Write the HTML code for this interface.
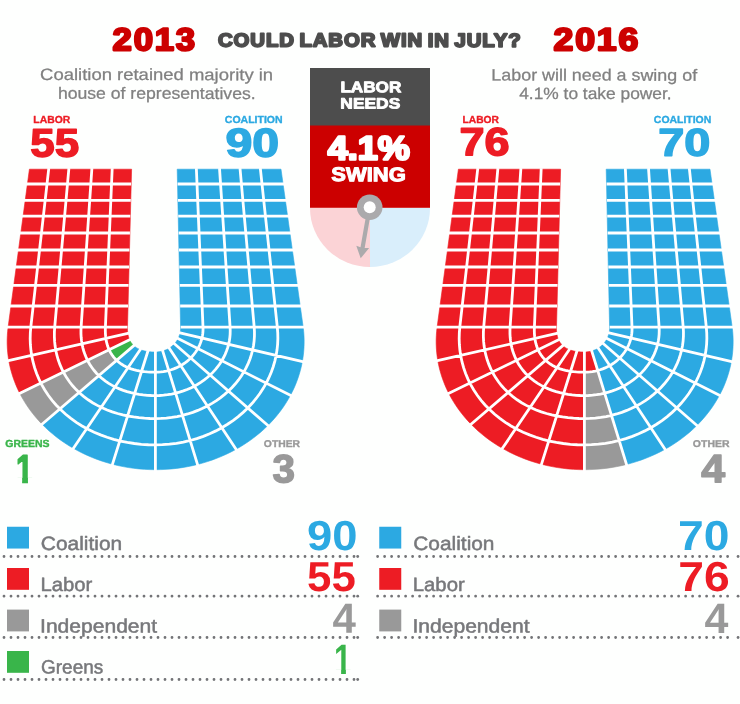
<!DOCTYPE html>
<html><head><meta charset="utf-8"><title>Could Labor win in July?</title>
<style>html,body{margin:0;padding:0;background:#fefffe}svg{display:block}</style></head>
<body>
<svg width="740" height="704" viewBox="0 0 740 704" font-family="'Liberation Sans', sans-serif">
<rect width="740" height="704" fill="#fefffe"/>
<g transform="translate(0,0)">
<path fill="#ed1c24" stroke="#ed1c24" stroke-width="0.6" d="M29.40,169.20 L48.80,169.20 L47.11,184.00 L27.40,184.00ZM48.80,169.20 L68.90,169.20 L67.57,184.00 L47.11,184.00ZM68.90,169.20 L91.90,169.20 L90.89,184.00 L67.57,184.00ZM91.90,169.20 L112.20,169.20 L111.56,184.00 L90.89,184.00ZM112.20,169.20 L131.60,169.20 L131.22,184.00 L111.56,184.00ZM27.40,184.00 L47.11,184.00 L45.26,200.30 L25.21,200.30ZM47.11,184.00 L67.57,184.00 L66.10,200.30 L45.26,200.30ZM67.57,184.00 L90.89,184.00 L89.77,200.30 L66.10,200.30ZM90.89,184.00 L111.56,184.00 L110.86,200.30 L89.77,200.30ZM111.56,184.00 L131.22,184.00 L130.79,200.30 L110.86,200.30ZM25.21,200.30 L45.26,200.30 L43.46,216.10 L23.08,216.10ZM45.26,200.30 L66.10,200.30 L64.68,216.10 L43.46,216.10ZM66.10,200.30 L89.77,200.30 L88.69,216.10 L64.68,216.10ZM89.77,200.30 L110.86,200.30 L110.18,216.10 L88.69,216.10ZM110.86,200.30 L130.79,200.30 L130.38,216.10 L110.18,216.10ZM23.08,216.10 L43.46,216.10 L41.53,233.00 L20.80,233.00ZM43.46,216.10 L64.68,216.10 L63.17,233.00 L41.53,233.00ZM64.68,216.10 L88.69,216.10 L87.54,233.00 L63.17,233.00ZM88.69,216.10 L110.18,216.10 L109.45,233.00 L87.54,233.00ZM110.18,216.10 L130.38,216.10 L129.94,233.00 L109.45,233.00ZM20.80,233.00 L41.53,233.00 L39.59,250.00 L18.51,250.00ZM41.53,233.00 L63.17,233.00 L61.64,250.00 L39.59,250.00ZM63.17,233.00 L87.54,233.00 L86.38,250.00 L61.64,250.00ZM87.54,233.00 L109.45,233.00 L108.72,250.00 L86.38,250.00ZM109.45,233.00 L129.94,233.00 L129.50,250.00 L108.72,250.00ZM18.51,250.00 L39.59,250.00 L37.66,267.00 L16.22,267.00ZM39.59,250.00 L61.64,250.00 L60.11,267.00 L37.66,267.00ZM61.64,250.00 L86.38,250.00 L85.21,267.00 L60.11,267.00ZM86.38,250.00 L108.72,250.00 L107.99,267.00 L85.21,267.00ZM108.72,250.00 L129.50,250.00 L129.06,267.00 L107.99,267.00ZM16.22,267.00 L37.66,267.00 L35.57,285.30 L13.75,285.30ZM37.66,267.00 L60.11,267.00 L58.47,285.30 L35.57,285.30ZM60.11,267.00 L85.21,267.00 L83.96,285.30 L58.47,285.30ZM85.21,267.00 L107.99,267.00 L107.20,285.30 L83.96,285.30ZM107.99,267.00 L129.06,267.00 L128.59,285.30 L107.20,285.30ZM13.75,285.30 L35.57,285.30 L33.22,306.00 L10.96,306.00ZM35.57,285.30 L58.47,285.30 L56.61,306.00 L33.22,306.00ZM58.47,285.30 L83.96,285.30 L82.55,306.00 L56.61,306.00ZM83.96,285.30 L107.20,285.30 L106.31,306.00 L82.55,306.00ZM107.20,285.30 L128.59,285.30 L128.05,306.00 L106.31,306.00ZM10.96,306.00 L33.22,306.00 L30.80,327.20 L8.10,327.20ZM33.22,306.00 L56.61,306.00 L54.70,327.20 L30.80,327.20ZM56.61,306.00 L82.55,306.00 L81.10,327.20 L54.70,327.20ZM82.55,306.00 L106.31,306.00 L105.40,327.20 L81.10,327.20ZM106.31,306.00 L128.05,306.00 L127.50,327.20 L105.40,327.20ZM127.50,327.20 L127.49,327.98 L127.49,328.76 L127.50,329.54 L127.53,330.32 L127.58,331.11 L127.64,331.89 L127.72,332.68 L127.83,333.48 L105.88,338.47 L105.70,337.05 L105.56,335.63 L105.45,334.21 L105.38,332.80 L105.34,331.39 L105.33,329.99 L105.35,328.59 L105.40,327.20ZM105.40,327.20 L105.35,328.59 L105.33,329.99 L105.34,331.39 L105.38,332.80 L105.45,334.21 L105.56,335.63 L105.70,337.05 L105.88,338.47 L82.03,343.90 L81.68,341.81 L81.40,339.71 L81.19,337.62 L81.05,335.52 L80.97,333.43 L80.95,331.35 L80.99,329.27 L81.10,327.20ZM81.10,327.20 L80.99,329.27 L80.95,331.35 L80.97,333.43 L81.05,335.52 L81.19,337.62 L81.40,339.71 L81.68,341.81 L82.03,343.90 L55.72,349.89 L55.24,347.04 L54.87,344.20 L54.61,341.35 L54.43,338.50 L54.36,335.66 L54.38,332.83 L54.49,330.01 L54.70,327.20ZM54.70,327.20 L54.49,330.01 L54.38,332.83 L54.36,335.66 L54.43,338.50 L54.61,341.35 L54.87,344.20 L55.24,347.04 L55.72,349.89 L31.65,355.37 L31.10,351.83 L30.68,348.29 L30.39,344.75 L30.22,341.21 L30.18,337.69 L30.27,334.18 L30.47,330.68 L30.80,327.20ZM30.80,327.20 L30.47,330.68 L30.27,334.18 L30.18,337.69 L30.22,341.21 L30.39,344.75 L30.68,348.29 L31.10,351.83 L31.65,355.37 L8.78,360.58 L8.14,356.38 L7.65,352.18 L7.33,347.98 L7.17,343.79 L7.17,339.62 L7.33,335.45 L7.64,331.31 L8.10,327.20ZM127.83,333.48 L127.95,334.27 L128.10,335.07 L128.27,335.86 L128.48,336.66 L128.71,337.45 L128.97,338.24 L129.27,339.02 L129.61,339.80 L109.10,349.81 L108.50,348.42 L107.96,347.02 L107.48,345.61 L107.06,344.18 L106.69,342.76 L106.37,341.33 L106.10,339.90 L105.88,338.47ZM105.88,338.47 L106.10,339.90 L106.37,341.33 L106.69,342.76 L107.06,344.18 L107.48,345.61 L107.96,347.02 L108.50,348.42 L109.10,349.81 L87.52,360.35 L86.55,358.35 L85.67,356.33 L84.87,354.29 L84.15,352.23 L83.50,350.16 L82.94,348.08 L82.44,345.99 L82.03,343.90ZM82.03,343.90 L82.44,345.99 L82.94,348.08 L83.50,350.16 L84.15,352.23 L84.87,354.29 L85.67,356.33 L86.55,358.35 L87.52,360.35 L63.39,372.14 L62.04,369.45 L60.80,366.72 L59.67,363.96 L58.66,361.18 L57.76,358.38 L56.97,355.56 L56.29,352.73 L55.72,349.89ZM55.72,349.89 L56.29,352.73 L56.97,355.56 L57.76,358.38 L58.66,361.18 L59.67,363.96 L60.80,366.72 L62.04,369.45 L63.39,372.14 L40.92,383.11 L39.28,379.74 L37.77,376.34 L36.41,372.90 L35.19,369.43 L34.10,365.94 L33.15,362.43 L32.33,358.90 L31.65,355.37ZM31.65,355.37 L32.33,358.90 L33.15,362.43 L34.10,365.94 L35.19,369.43 L36.41,372.90 L37.77,376.34 L39.28,379.74 L40.92,383.11 L19.80,393.43 L17.85,389.44 L16.07,385.41 L14.44,381.34 L12.98,377.23 L11.69,373.10 L10.55,368.94 L9.59,364.76 L8.78,360.58Z"/>
<path fill="#2ca9e2" stroke="#2ca9e2" stroke-width="0.6" d="M177.20,169.20 L196.35,169.20 L196.97,184.00 L177.52,184.00ZM196.35,169.20 L219.50,169.20 L220.49,184.00 L196.97,184.00ZM219.50,169.20 L240.00,169.20 L241.33,184.00 L220.49,184.00ZM240.00,169.20 L260.30,169.20 L261.89,184.00 L241.33,184.00ZM260.30,169.20 L281.00,169.20 L283.08,184.00 L261.89,184.00ZM177.52,184.00 L196.97,184.00 L197.66,200.30 L177.87,200.30ZM196.97,184.00 L220.49,184.00 L221.59,200.30 L197.66,200.30ZM220.49,184.00 L241.33,184.00 L242.80,200.30 L221.59,200.30ZM241.33,184.00 L261.89,184.00 L263.65,200.30 L242.80,200.30ZM261.89,184.00 L283.08,184.00 L285.37,200.30 L263.65,200.30ZM177.87,200.30 L197.66,200.30 L198.32,216.10 L178.21,216.10ZM197.66,200.30 L221.59,200.30 L222.65,216.10 L198.32,216.10ZM221.59,200.30 L242.80,200.30 L244.22,216.10 L222.65,216.10ZM242.80,200.30 L263.65,200.30 L265.35,216.10 L244.22,216.10ZM263.65,200.30 L285.37,200.30 L287.59,216.10 L265.35,216.10ZM178.21,216.10 L198.32,216.10 L199.04,233.00 L178.57,233.00ZM198.32,216.10 L222.65,216.10 L223.78,233.00 L199.04,233.00ZM222.65,216.10 L244.22,216.10 L245.73,233.00 L223.78,233.00ZM244.22,216.10 L265.35,216.10 L267.16,233.00 L245.73,233.00ZM265.35,216.10 L287.59,216.10 L289.96,233.00 L267.16,233.00ZM178.57,233.00 L199.04,233.00 L199.75,250.00 L178.94,250.00ZM199.04,233.00 L223.78,233.00 L224.92,250.00 L199.75,250.00ZM223.78,233.00 L245.73,233.00 L247.26,250.00 L224.92,250.00ZM245.73,233.00 L267.16,233.00 L268.99,250.00 L247.26,250.00ZM267.16,233.00 L289.96,233.00 L292.35,250.00 L268.99,250.00ZM178.94,250.00 L199.75,250.00 L200.47,267.00 L179.30,267.00ZM199.75,250.00 L224.92,250.00 L226.06,267.00 L200.47,267.00ZM224.92,250.00 L247.26,250.00 L248.79,267.00 L226.06,267.00ZM247.26,250.00 L268.99,250.00 L270.82,267.00 L248.79,267.00ZM268.99,250.00 L292.35,250.00 L294.74,267.00 L270.82,267.00ZM179.30,267.00 L200.47,267.00 L201.24,285.30 L179.70,285.30ZM200.47,267.00 L226.06,267.00 L227.29,285.30 L201.24,285.30ZM226.06,267.00 L248.79,267.00 L250.43,285.30 L227.29,285.30ZM248.79,267.00 L270.82,267.00 L272.79,285.30 L250.43,285.30ZM270.82,267.00 L294.74,267.00 L297.31,285.30 L272.79,285.30ZM179.70,285.30 L201.24,285.30 L202.11,306.00 L180.14,306.00ZM201.24,285.30 L227.29,285.30 L228.68,306.00 L202.11,306.00ZM227.29,285.30 L250.43,285.30 L252.29,306.00 L228.68,306.00ZM250.43,285.30 L272.79,285.30 L275.02,306.00 L252.29,306.00ZM272.79,285.30 L297.31,285.30 L300.22,306.00 L275.02,306.00ZM180.14,306.00 L202.11,306.00 L203.00,327.20 L180.60,327.20ZM202.11,306.00 L228.68,306.00 L230.10,327.20 L203.00,327.20ZM228.68,306.00 L252.29,306.00 L254.20,327.20 L230.10,327.20ZM252.29,306.00 L275.02,306.00 L277.30,327.20 L254.20,327.20ZM275.02,306.00 L300.22,306.00 L303.20,327.20 L277.30,327.20ZM133.83,345.66 L134.53,346.27 L135.26,346.85 L136.02,347.40 L136.81,347.91 L137.63,348.39 L138.48,348.84 L139.34,349.25 L140.22,349.63 L128.04,367.62 L126.47,366.92 L124.93,366.16 L123.42,365.34 L121.97,364.46 L120.56,363.52 L119.20,362.52 L117.90,361.47 L116.66,360.36ZM116.66,360.36 L117.90,361.47 L119.20,362.52 L120.56,363.52 L121.97,364.46 L123.42,365.34 L124.93,366.16 L126.47,366.92 L128.04,367.62 L115.01,386.89 L112.77,385.73 L110.59,384.50 L108.46,383.19 L106.40,381.82 L104.39,380.37 L102.46,378.85 L100.61,377.26 L98.83,375.61ZM98.83,375.61 L100.61,377.26 L102.46,378.85 L104.39,380.37 L106.40,381.82 L108.46,383.19 L110.59,384.50 L112.77,385.73 L115.01,386.89 L101.17,407.33 L98.14,405.82 L95.17,404.21 L92.28,402.50 L89.46,400.69 L86.73,398.78 L84.08,396.78 L81.53,394.69 L79.08,392.51ZM79.08,392.51 L81.53,394.69 L84.08,396.78 L86.73,398.78 L89.46,400.69 L92.28,402.50 L95.17,404.21 L98.14,405.82 L101.17,407.33 L86.79,428.59 L83.06,426.52 L79.43,424.34 L75.89,422.04 L72.46,419.63 L69.14,417.11 L65.93,414.49 L62.85,411.76 L59.89,408.94ZM59.89,408.94 L62.85,411.76 L65.93,414.49 L69.14,417.11 L72.46,419.63 L75.89,422.04 L79.43,424.34 L83.06,426.52 L86.79,428.59 L73.41,448.35 L69.05,445.75 L64.81,443.03 L60.69,440.18 L56.69,437.21 L52.83,434.12 L49.09,430.92 L45.50,427.61 L42.05,424.20ZM140.22,349.63 L141.14,349.98 L142.07,350.29 L143.01,350.57 L143.95,350.82 L144.91,351.04 L145.86,351.23 L146.82,351.39 L147.78,351.54 L141.61,371.26 L139.88,370.98 L138.15,370.66 L136.43,370.29 L134.72,369.87 L133.02,369.40 L131.34,368.87 L129.68,368.28 L128.04,367.62ZM128.04,367.62 L129.68,368.28 L131.34,368.87 L133.02,369.40 L134.72,369.87 L136.43,370.29 L138.15,370.66 L139.88,370.98 L141.61,371.26 L134.64,393.52 L132.09,392.96 L129.56,392.32 L127.05,391.61 L124.57,390.82 L122.12,389.95 L119.71,389.01 L117.34,387.99 L115.01,386.89ZM115.01,386.89 L117.34,387.99 L119.71,389.01 L122.12,389.95 L124.57,390.82 L127.05,391.61 L129.56,392.32 L132.09,392.96 L134.64,393.52 L127.62,415.94 L124.20,415.21 L120.80,414.38 L117.43,413.46 L114.10,412.44 L110.79,411.32 L107.54,410.09 L104.33,408.76 L101.17,407.33ZM101.17,407.33 L104.33,408.76 L107.54,410.09 L110.79,411.32 L114.10,412.44 L117.43,413.46 L120.80,414.38 L124.20,415.21 L127.62,415.94 L119.82,440.85 L115.49,439.77 L111.21,438.56 L106.98,437.22 L102.80,435.75 L98.69,434.15 L94.64,432.42 L90.67,430.57 L86.79,428.59ZM86.79,428.59 L90.67,430.57 L94.64,432.42 L98.69,434.15 L102.80,435.75 L106.98,437.22 L111.21,438.56 L115.49,439.77 L119.82,440.85 L112.50,464.23 L107.33,462.79 L102.23,461.19 L97.20,459.43 L92.26,457.51 L87.40,455.44 L82.63,453.22 L77.97,450.86 L73.41,448.35ZM147.78,351.54 L148.74,351.65 L149.70,351.75 L150.65,351.83 L151.60,351.89 L152.56,351.94 L153.50,351.97 L154.45,351.99 L155.40,352.00 L155.40,372.20 L153.68,372.19 L151.96,372.15 L150.24,372.08 L148.52,371.98 L146.79,371.85 L145.06,371.69 L143.34,371.50 L141.61,371.26ZM141.61,371.26 L143.34,371.50 L145.06,371.69 L146.79,371.85 L148.52,371.98 L150.24,372.08 L151.96,372.15 L153.68,372.19 L155.40,372.20 L155.40,395.60 L152.79,395.57 L150.18,395.47 L147.57,395.31 L144.97,395.09 L142.37,394.80 L139.78,394.44 L137.20,394.02 L134.64,393.52ZM134.64,393.52 L137.20,394.02 L139.78,394.44 L142.37,394.80 L144.97,395.09 L147.57,395.31 L150.18,395.47 L152.79,395.57 L155.40,395.60 L155.40,418.60 L151.91,418.56 L148.42,418.44 L144.93,418.23 L141.45,417.95 L137.98,417.58 L134.51,417.12 L131.06,416.57 L127.62,415.94ZM127.62,415.94 L131.06,416.57 L134.51,417.12 L137.98,417.58 L141.45,417.95 L144.93,418.23 L148.42,418.44 L151.91,418.56 L155.40,418.60 L155.40,444.90 L150.90,444.84 L146.41,444.65 L141.93,444.33 L137.46,443.89 L133.01,443.32 L128.59,442.63 L124.19,441.80 L119.82,440.85ZM119.82,440.85 L124.19,441.80 L128.59,442.63 L133.01,443.32 L137.46,443.89 L141.93,444.33 L146.41,444.65 L150.90,444.84 L155.40,444.90 L155.40,469.70 L149.96,469.61 L144.52,469.36 L139.11,468.92 L133.71,468.32 L128.34,467.55 L123.02,466.61 L117.73,465.50 L112.50,464.23ZM155.40,352.00 L156.33,351.98 L157.26,351.94 L158.18,351.86 L159.10,351.74 L160.01,351.60 L160.91,351.43 L161.81,351.22 L162.69,350.99 L168.67,370.49 L167.06,370.89 L165.42,371.23 L163.77,371.53 L162.11,371.77 L160.44,371.96 L158.77,372.09 L157.08,372.17 L155.40,372.20ZM155.40,372.20 L157.08,372.17 L158.77,372.09 L160.44,371.96 L162.11,371.77 L163.77,371.53 L165.42,371.23 L167.06,370.89 L168.67,370.49 L175.63,393.19 L173.16,393.75 L170.66,394.24 L168.14,394.66 L165.61,394.99 L163.07,395.26 L160.52,395.45 L157.96,395.56 L155.40,395.60ZM155.40,395.60 L157.96,395.56 L160.52,395.45 L163.07,395.26 L165.61,394.99 L168.14,394.66 L170.66,394.24 L173.16,393.75 L175.63,393.19 L182.44,415.38 L179.13,416.13 L175.79,416.78 L172.43,417.34 L169.05,417.79 L165.65,418.14 L162.24,418.40 L158.82,418.55 L155.40,418.60ZM155.40,418.60 L158.82,418.55 L162.24,418.40 L165.65,418.14 L169.05,417.79 L172.43,417.34 L175.79,416.78 L179.13,416.13 L182.44,415.38 L190.14,440.48 L185.90,441.51 L181.62,442.41 L177.31,443.17 L172.96,443.79 L168.59,444.27 L164.21,444.62 L159.81,444.83 L155.40,444.90ZM155.40,444.90 L159.81,444.83 L164.21,444.62 L168.59,444.27 L172.96,443.79 L177.31,443.17 L181.62,442.41 L185.90,441.51 L190.14,440.48 L197.49,464.47 L192.35,465.69 L187.16,466.75 L181.93,467.65 L176.67,468.39 L171.38,468.96 L166.06,469.37 L160.74,469.62 L155.40,469.70ZM162.69,350.99 L163.56,350.72 L164.42,350.43 L165.27,350.11 L166.09,349.76 L166.90,349.38 L167.69,348.98 L168.46,348.56 L169.21,348.11 L180.75,365.58 L179.35,366.35 L177.90,367.08 L176.43,367.77 L174.93,368.41 L173.40,369.00 L171.85,369.55 L170.27,370.04 L168.67,370.49ZM168.67,370.49 L170.27,370.04 L171.85,369.55 L173.40,369.00 L174.93,368.41 L176.43,367.77 L177.90,367.08 L179.35,366.35 L180.75,365.58 L194.35,386.15 L192.14,387.27 L189.89,388.32 L187.60,389.31 L185.27,390.22 L182.91,391.07 L180.51,391.85 L178.09,392.56 L175.63,393.19ZM175.63,393.19 L178.09,392.56 L180.51,391.85 L182.91,391.07 L185.27,390.22 L187.60,389.31 L189.89,388.32 L192.14,387.27 L194.35,386.15 L207.43,405.95 L204.49,407.45 L201.48,408.86 L198.42,410.18 L195.31,411.41 L192.16,412.54 L188.96,413.58 L185.71,414.53 L182.44,415.38ZM182.44,415.38 L185.71,414.53 L188.96,413.58 L192.16,412.54 L195.31,411.41 L198.42,410.18 L201.48,408.86 L204.49,407.45 L207.43,405.95 L221.81,427.72 L218.11,429.73 L214.33,431.63 L210.47,433.42 L206.53,435.08 L202.53,436.62 L198.45,438.04 L194.32,439.33 L190.14,440.48ZM190.14,440.48 L194.32,439.33 L198.45,438.04 L202.53,436.62 L206.53,435.08 L210.47,433.42 L214.33,431.63 L218.11,429.73 L221.81,427.72 L236.05,449.27 L231.54,451.68 L226.92,453.94 L222.22,456.07 L217.42,458.05 L212.55,459.89 L207.59,461.57 L202.57,463.10 L197.49,464.47ZM169.21,348.11 L169.94,347.64 L170.65,347.15 L171.34,346.64 L172.00,346.10 L172.64,345.55 L173.25,344.99 L173.84,344.40 L174.40,343.81 L190.68,358.03 L189.58,359.09 L188.44,360.12 L187.26,361.12 L186.03,362.09 L184.77,363.02 L183.47,363.91 L182.13,364.76 L180.75,365.58ZM180.75,365.58 L182.13,364.76 L183.47,363.91 L184.77,363.02 L186.03,362.09 L187.26,361.12 L188.44,360.12 L189.58,359.09 L190.68,358.03 L210.13,375.03 L208.36,376.61 L206.53,378.15 L204.64,379.63 L202.69,381.05 L200.68,382.42 L198.62,383.72 L196.51,384.97 L194.35,386.15ZM194.35,386.15 L196.51,384.97 L198.62,383.72 L200.68,382.42 L202.69,381.05 L204.64,379.63 L206.53,378.15 L208.36,376.61 L210.13,375.03 L228.46,391.04 L226.11,393.17 L223.67,395.23 L221.15,397.21 L218.55,399.12 L215.88,400.95 L213.13,402.70 L210.31,404.37 L207.43,405.95ZM207.43,405.95 L210.31,404.37 L213.13,402.70 L215.88,400.95 L218.55,399.12 L221.15,397.21 L223.67,395.23 L226.11,393.17 L228.46,391.04 L247.80,407.95 L244.94,410.74 L241.95,413.45 L238.86,416.07 L235.65,418.60 L232.34,421.03 L228.93,423.37 L225.42,425.60 L221.81,427.72ZM221.81,427.72 L225.42,425.60 L228.93,423.37 L232.34,421.03 L235.65,418.60 L238.86,416.07 L241.95,413.45 L244.94,410.74 L247.80,407.95 L267.87,425.49 L264.36,428.86 L260.70,432.13 L256.90,435.28 L252.98,438.33 L248.92,441.25 L244.75,444.05 L240.45,446.73 L236.05,449.27ZM174.40,343.81 L174.94,343.19 L175.46,342.57 L175.94,341.93 L176.41,341.29 L176.84,340.63 L177.26,339.96 L177.64,339.29 L178.01,338.61 L197.83,348.61 L197.10,349.86 L196.32,351.09 L195.50,352.31 L194.62,353.50 L193.70,354.67 L192.74,355.82 L191.73,356.94 L190.68,358.03ZM190.68,358.03 L191.73,356.94 L192.74,355.82 L193.70,354.67 L194.62,353.50 L195.50,352.31 L196.32,351.09 L197.10,349.86 L197.83,348.61 L221.82,360.71 L220.61,362.64 L219.33,364.53 L217.98,366.39 L216.55,368.20 L215.05,369.98 L213.48,371.71 L211.84,373.39 L210.13,375.03ZM210.13,375.03 L211.84,373.39 L213.48,371.71 L215.05,369.98 L216.55,368.20 L217.98,366.39 L219.33,364.53 L220.61,362.64 L221.82,360.71 L243.90,371.85 L242.32,374.43 L240.63,376.97 L238.85,379.46 L236.96,381.89 L234.98,384.27 L232.90,386.59 L230.72,388.85 L228.46,391.04ZM228.46,391.04 L230.72,388.85 L232.90,386.59 L234.98,384.27 L236.96,381.89 L238.85,379.46 L240.63,376.97 L242.32,374.43 L243.90,371.85 L266.23,383.12 L264.38,386.42 L262.40,389.68 L260.29,392.88 L258.04,396.03 L255.67,399.11 L253.17,402.13 L250.55,405.08 L247.80,407.95ZM247.80,407.95 L250.55,405.08 L253.17,402.13 L255.67,399.11 L258.04,396.03 L260.29,392.88 L262.40,389.68 L264.38,386.42 L266.23,383.12 L290.46,395.34 L288.20,399.37 L285.78,403.33 L283.19,407.22 L280.44,411.05 L277.53,414.79 L274.46,418.45 L271.24,422.01 L267.87,425.49ZM178.01,338.61 L178.34,337.92 L178.66,337.22 L178.95,336.52 L179.21,335.82 L179.45,335.11 L179.67,334.40 L179.86,333.68 L180.03,332.97 L201.95,338.10 L201.60,339.45 L201.21,340.79 L200.77,342.12 L200.28,343.44 L199.74,344.76 L199.15,346.05 L198.51,347.34 L197.83,348.61ZM197.83,348.61 L198.51,347.34 L199.15,346.05 L199.74,344.76 L200.28,343.44 L200.77,342.12 L201.21,340.79 L201.60,339.45 L201.95,338.10 L228.60,344.34 L228.03,346.45 L227.39,348.56 L226.66,350.64 L225.86,352.70 L224.97,354.74 L224.00,356.76 L222.95,358.75 L221.82,360.71ZM221.82,360.71 L222.95,358.75 L224.00,356.76 L224.97,354.74 L225.86,352.70 L226.66,350.64 L227.39,348.56 L228.03,346.45 L228.60,344.34 L252.63,349.97 L251.93,352.79 L251.12,355.59 L250.19,358.38 L249.15,361.14 L248.00,363.87 L246.74,366.56 L245.37,369.23 L243.90,371.85ZM243.90,371.85 L245.37,369.23 L246.74,366.56 L248.00,363.87 L249.15,361.14 L250.19,358.38 L251.12,355.59 L251.93,352.79 L252.63,349.97 L276.11,355.47 L275.36,359.00 L274.47,362.52 L273.44,366.02 L272.27,369.50 L270.96,372.96 L269.52,376.38 L267.95,379.77 L266.23,383.12ZM266.23,383.12 L267.95,379.77 L269.52,376.38 L270.96,372.96 L272.27,369.50 L273.44,366.02 L274.47,362.52 L275.36,359.00 L276.11,355.47 L302.34,361.61 L301.46,365.92 L300.41,370.22 L299.18,374.49 L297.78,378.74 L296.21,382.95 L294.47,387.13 L292.55,391.26 L290.46,395.34ZM180.03,332.97 L180.18,332.25 L180.31,331.53 L180.41,330.81 L180.49,330.09 L180.55,329.36 L180.59,328.64 L180.61,327.92 L180.60,327.20 L203.00,327.20 L203.03,328.56 L203.02,329.93 L202.96,331.29 L202.85,332.66 L202.70,334.02 L202.50,335.39 L202.25,336.75 L201.95,338.10ZM201.95,338.10 L202.25,336.75 L202.50,335.39 L202.70,334.02 L202.85,332.66 L202.96,331.29 L203.02,329.93 L203.03,328.56 L203.00,327.20 L230.10,327.20 L230.20,329.34 L230.22,331.49 L230.16,333.63 L230.01,335.78 L229.78,337.93 L229.47,340.08 L229.08,342.21 L228.60,344.34ZM228.60,344.34 L229.08,342.21 L229.47,340.08 L229.78,337.93 L230.01,335.78 L230.16,333.63 L230.22,331.49 L230.20,329.34 L230.10,327.20 L254.20,327.20 L254.39,330.03 L254.48,332.87 L254.45,335.73 L254.31,338.58 L254.06,341.43 L253.70,344.29 L253.22,347.13 L252.63,349.97ZM252.63,349.97 L253.22,347.13 L253.70,344.29 L254.06,341.43 L254.31,338.58 L254.45,335.73 L254.48,332.87 L254.39,330.03 L254.20,327.20 L277.30,327.20 L277.61,330.70 L277.80,334.21 L277.85,337.74 L277.77,341.28 L277.56,344.83 L277.22,348.37 L276.73,351.92 L276.11,355.47ZM276.11,355.47 L276.73,351.92 L277.22,348.37 L277.56,344.83 L277.77,341.28 L277.85,337.74 L277.80,334.21 L277.61,330.70 L277.30,327.20 L303.20,327.20 L303.68,331.44 L303.99,335.71 L304.14,340.00 L304.12,344.31 L303.93,348.63 L303.57,352.96 L303.04,357.28 L302.34,361.61Z"/>
<path fill="#39b54a" stroke="#39b54a" stroke-width="0.6" d="M129.61,339.80 L129.99,340.59 L130.42,341.38 L130.88,342.15 L131.39,342.89 L131.94,343.62 L132.53,344.33 L133.16,345.01 L133.83,345.66 L116.66,360.36 L115.46,359.18 L114.34,357.96 L113.28,356.69 L112.30,355.38 L111.39,354.03 L110.55,352.65 L109.79,351.24 L109.10,349.81Z"/>
<path fill="#999999" stroke="#999999" stroke-width="0.6" d="M109.10,349.81 L109.79,351.24 L110.55,352.65 L111.39,354.03 L112.30,355.38 L113.28,356.69 L114.34,357.96 L115.46,359.18 L116.66,360.36 L98.83,375.61 L97.10,373.88 L95.47,372.09 L93.92,370.25 L92.46,368.35 L91.08,366.41 L89.81,364.43 L88.62,362.40 L87.52,360.35ZM87.52,360.35 L88.62,362.40 L89.81,364.43 L91.08,366.41 L92.46,368.35 L93.92,370.25 L95.47,372.09 L97.10,373.88 L98.83,375.61 L79.08,392.51 L76.71,390.21 L74.45,387.83 L72.30,385.38 L70.27,382.85 L68.37,380.26 L66.58,377.60 L64.93,374.89 L63.39,372.14ZM63.39,372.14 L64.93,374.89 L66.58,377.60 L68.37,380.26 L70.27,382.85 L72.30,385.38 L74.45,387.83 L76.71,390.21 L79.08,392.51 L59.89,408.94 L57.02,405.98 L54.28,402.94 L51.69,399.81 L49.24,396.60 L46.94,393.32 L44.78,389.98 L42.77,386.57 L40.92,383.11ZM40.92,383.11 L42.77,386.57 L44.78,389.98 L46.94,393.32 L49.24,396.60 L51.69,399.81 L54.28,402.94 L57.02,405.98 L59.89,408.94 L42.05,424.20 L38.70,420.65 L35.51,417.00 L32.48,413.26 L29.61,409.43 L26.90,405.53 L24.37,401.56 L22.00,397.52 L19.80,393.43Z"/>
<path fill="none" stroke="#fff" stroke-width="2.8" d="M24.40,184.00 L131.22,184.00 M177.52,184.00 L286.08,184.00 M22.21,200.30 L130.79,200.30 M177.87,200.30 L288.37,200.30 M20.08,216.10 L130.38,216.10 M178.21,216.10 L290.59,216.10 M17.80,233.00 L129.94,233.00 M178.57,233.00 L292.96,233.00 M15.51,250.00 L129.50,250.00 M178.94,250.00 L295.35,250.00 M13.22,267.00 L129.06,267.00 M179.30,267.00 L297.74,267.00 M10.75,285.30 L128.59,285.30 M179.70,285.30 L300.31,285.30 M7.96,306.00 L128.05,306.00 M180.14,306.00 L303.22,306.00 M5.10,327.20 L127.50,327.20 M180.60,327.20 L306.20,327.20 M48.80,168.20 L30.80,327.20 L30.80,327.20 L30.33,332.93 L30.18,338.70 L30.37,344.50 L30.91,350.32 L31.79,356.14 L33.03,361.95 L34.63,367.71 L36.61,373.42 L38.96,379.05 L41.68,384.58 L44.78,389.98 L48.25,395.23 L52.09,400.31 L56.28,405.19 L60.82,409.85 L65.68,414.27 L70.85,418.44 L76.31,422.33 L82.03,425.92 L88.00,429.22 L94.17,432.21 L100.53,434.89 L107.06,437.25 L113.72,439.29 L120.50,441.01 L127.38,442.41 L134.32,443.50 L141.32,444.28 L148.35,444.75 L155.40,444.90 L162.45,444.72 L169.47,444.19 L176.44,443.30 L183.34,442.06 L190.14,440.48 L196.81,438.57 L203.33,436.32 L209.69,433.76 L215.86,430.89 L221.81,427.72 L227.54,424.27 L233.01,420.55 L238.23,416.58 L243.16,412.37 L247.80,407.95 L252.14,403.32 L256.16,398.50 L259.85,393.52 L263.21,388.38 L266.23,383.12 L268.91,377.74 L271.24,372.27 L273.21,366.72 L274.84,361.11 L276.11,355.47 L277.04,349.79 L277.62,344.12 L277.85,338.45 L277.74,332.80 L277.30,327.20 L277.30,327.20 L260.30,168.20 M68.90,168.20 L54.70,327.20 L54.70,327.20 L54.41,331.83 L54.37,336.48 L54.59,341.15 L55.07,345.84 L55.83,350.51 L56.87,355.18 L58.20,359.80 L59.84,364.38 L61.78,368.89 L64.02,373.30 L66.58,377.60 L69.46,381.77 L72.63,385.77 L76.10,389.59 L79.86,393.22 L83.87,396.62 L88.14,399.79 L92.62,402.71 L97.30,405.38 L102.16,407.79 L107.16,409.94 L112.28,411.84 L117.50,413.48 L122.80,414.88 L128.16,416.04 L133.56,416.98 L139.00,417.69 L144.46,418.20 L149.92,418.50 L155.40,418.60 L160.87,418.47 L166.33,418.08 L171.75,417.44 L177.13,416.53 L182.44,415.38 L187.66,413.97 L192.79,412.32 L197.81,410.43 L202.69,408.31 L207.43,405.95 L212.01,403.38 L216.42,400.59 L220.64,397.60 L224.65,394.41 L228.46,391.04 L232.04,387.50 L235.38,383.80 L238.48,379.95 L241.32,375.96 L243.90,371.85 L246.21,367.63 L248.24,363.32 L249.99,358.93 L251.46,354.47 L252.63,349.97 L253.52,345.43 L254.12,340.86 L254.43,336.30 L254.46,331.74 L254.20,327.20 L254.20,327.20 L240.00,168.20 M91.90,168.20 L81.10,327.20 L81.10,327.20 L80.96,330.61 L80.98,334.04 L81.18,337.47 L81.55,340.92 L82.11,344.36 L82.86,347.80 L83.82,351.21 L84.98,354.60 L86.37,357.94 L87.97,361.22 L89.81,364.43 L91.87,367.54 L94.16,370.54 L96.66,373.42 L99.39,376.15 L102.31,378.72 L105.43,381.13 L108.71,383.35 L112.15,385.39 L115.73,387.24 L119.43,388.89 L123.22,390.35 L127.10,391.62 L131.04,392.70 L135.04,393.61 L139.07,394.33 L143.13,394.89 L147.21,395.29 L151.30,395.52 L155.40,395.60 L159.50,395.50 L163.58,395.21 L167.64,394.73 L171.66,394.05 L175.63,393.19 L179.55,392.14 L183.38,390.91 L187.14,389.50 L190.80,387.91 L194.35,386.15 L197.78,384.23 L201.08,382.15 L204.25,379.92 L207.27,377.54 L210.13,375.03 L212.83,372.39 L215.35,369.63 L217.70,366.75 L219.85,363.78 L221.82,360.71 L223.59,357.56 L225.15,354.34 L226.51,351.05 L227.66,347.72 L228.60,344.34 L229.32,340.93 L229.84,337.50 L230.14,334.06 L230.22,330.63 L230.10,327.20 L230.10,327.20 L219.50,168.20 M112.20,168.20 L105.40,327.20 L105.40,327.20 L105.34,329.49 L105.35,331.80 L105.45,334.11 L105.64,336.44 L105.93,338.78 L106.33,341.13 L106.87,343.48 L107.55,345.82 L108.38,348.14 L109.38,350.42 L110.55,352.65 L111.91,354.81 L113.45,356.89 L115.16,358.86 L117.05,360.72 L119.09,362.44 L121.28,364.02 L123.60,365.45 L126.03,366.72 L128.55,367.84 L131.14,368.80 L133.79,369.62 L136.47,370.30 L139.17,370.86 L141.88,371.30 L144.59,371.64 L147.30,371.89 L150.00,372.07 L152.70,372.17 L155.40,372.20 L158.09,372.13 L160.78,371.92 L163.44,371.58 L166.08,371.10 L168.67,370.49 L171.22,369.75 L173.71,368.88 L176.13,367.90 L178.48,366.79 L180.75,365.58 L182.94,364.25 L185.02,362.83 L187.01,361.32 L188.90,359.71 L190.68,358.03 L192.34,356.27 L193.89,354.44 L195.33,352.55 L196.64,350.60 L197.83,348.61 L198.90,346.57 L199.85,344.49 L200.67,342.39 L201.37,340.25 L201.95,338.10 L202.40,335.93 L202.74,333.75 L202.94,331.57 L203.03,329.38 L203.00,327.20 L203.00,327.20 L196.35,168.20 M128.97,333.22 L5.19,361.39 M130.65,339.29 L16.37,395.10 M134.69,344.92 L39.09,426.73 M140.84,348.72 L71.22,451.59 M148.10,350.51 L111.34,467.95 M155.40,350.94 L155.40,473.59 M162.38,349.96 L198.63,468.20 M168.61,347.20 L238.20,452.53 M173.56,343.07 L270.80,428.05 M176.98,338.09 L293.87,397.06 M178.90,332.70 L305.93,362.45"/>
</g>
<g transform="translate(429,0)">
<path fill="#ed1c24" stroke="#ed1c24" stroke-width="0.6" d="M29.40,169.20 L48.80,169.20 L47.11,184.00 L27.40,184.00ZM48.80,169.20 L68.90,169.20 L67.57,184.00 L47.11,184.00ZM68.90,169.20 L91.90,169.20 L90.89,184.00 L67.57,184.00ZM91.90,169.20 L112.20,169.20 L111.56,184.00 L90.89,184.00ZM112.20,169.20 L131.60,169.20 L131.22,184.00 L111.56,184.00ZM27.40,184.00 L47.11,184.00 L45.26,200.30 L25.21,200.30ZM47.11,184.00 L67.57,184.00 L66.10,200.30 L45.26,200.30ZM67.57,184.00 L90.89,184.00 L89.77,200.30 L66.10,200.30ZM90.89,184.00 L111.56,184.00 L110.86,200.30 L89.77,200.30ZM111.56,184.00 L131.22,184.00 L130.79,200.30 L110.86,200.30ZM25.21,200.30 L45.26,200.30 L43.46,216.10 L23.08,216.10ZM45.26,200.30 L66.10,200.30 L64.68,216.10 L43.46,216.10ZM66.10,200.30 L89.77,200.30 L88.69,216.10 L64.68,216.10ZM89.77,200.30 L110.86,200.30 L110.18,216.10 L88.69,216.10ZM110.86,200.30 L130.79,200.30 L130.38,216.10 L110.18,216.10ZM23.08,216.10 L43.46,216.10 L41.53,233.00 L20.80,233.00ZM43.46,216.10 L64.68,216.10 L63.17,233.00 L41.53,233.00ZM64.68,216.10 L88.69,216.10 L87.54,233.00 L63.17,233.00ZM88.69,216.10 L110.18,216.10 L109.45,233.00 L87.54,233.00ZM110.18,216.10 L130.38,216.10 L129.94,233.00 L109.45,233.00ZM20.80,233.00 L41.53,233.00 L39.59,250.00 L18.51,250.00ZM41.53,233.00 L63.17,233.00 L61.64,250.00 L39.59,250.00ZM63.17,233.00 L87.54,233.00 L86.38,250.00 L61.64,250.00ZM87.54,233.00 L109.45,233.00 L108.72,250.00 L86.38,250.00ZM109.45,233.00 L129.94,233.00 L129.50,250.00 L108.72,250.00ZM18.51,250.00 L39.59,250.00 L37.66,267.00 L16.22,267.00ZM39.59,250.00 L61.64,250.00 L60.11,267.00 L37.66,267.00ZM61.64,250.00 L86.38,250.00 L85.21,267.00 L60.11,267.00ZM86.38,250.00 L108.72,250.00 L107.99,267.00 L85.21,267.00ZM108.72,250.00 L129.50,250.00 L129.06,267.00 L107.99,267.00ZM16.22,267.00 L37.66,267.00 L35.57,285.30 L13.75,285.30ZM37.66,267.00 L60.11,267.00 L58.47,285.30 L35.57,285.30ZM60.11,267.00 L85.21,267.00 L83.96,285.30 L58.47,285.30ZM85.21,267.00 L107.99,267.00 L107.20,285.30 L83.96,285.30ZM107.99,267.00 L129.06,267.00 L128.59,285.30 L107.20,285.30ZM13.75,285.30 L35.57,285.30 L33.22,306.00 L10.96,306.00ZM35.57,285.30 L58.47,285.30 L56.61,306.00 L33.22,306.00ZM58.47,285.30 L83.96,285.30 L82.55,306.00 L56.61,306.00ZM83.96,285.30 L107.20,285.30 L106.31,306.00 L82.55,306.00ZM107.20,285.30 L128.59,285.30 L128.05,306.00 L106.31,306.00ZM10.96,306.00 L33.22,306.00 L30.80,327.20 L8.10,327.20ZM33.22,306.00 L56.61,306.00 L54.70,327.20 L30.80,327.20ZM56.61,306.00 L82.55,306.00 L81.10,327.20 L54.70,327.20ZM82.55,306.00 L106.31,306.00 L105.40,327.20 L81.10,327.20ZM106.31,306.00 L128.05,306.00 L127.50,327.20 L105.40,327.20ZM127.50,327.20 L127.49,327.98 L127.49,328.76 L127.50,329.54 L127.53,330.32 L127.58,331.11 L127.64,331.89 L127.72,332.68 L127.83,333.48 L105.88,338.47 L105.70,337.05 L105.56,335.63 L105.45,334.21 L105.38,332.80 L105.34,331.39 L105.33,329.99 L105.35,328.59 L105.40,327.20ZM105.40,327.20 L105.35,328.59 L105.33,329.99 L105.34,331.39 L105.38,332.80 L105.45,334.21 L105.56,335.63 L105.70,337.05 L105.88,338.47 L82.03,343.90 L81.68,341.81 L81.40,339.71 L81.19,337.62 L81.05,335.52 L80.97,333.43 L80.95,331.35 L80.99,329.27 L81.10,327.20ZM81.10,327.20 L80.99,329.27 L80.95,331.35 L80.97,333.43 L81.05,335.52 L81.19,337.62 L81.40,339.71 L81.68,341.81 L82.03,343.90 L55.72,349.89 L55.24,347.04 L54.87,344.20 L54.61,341.35 L54.43,338.50 L54.36,335.66 L54.38,332.83 L54.49,330.01 L54.70,327.20ZM54.70,327.20 L54.49,330.01 L54.38,332.83 L54.36,335.66 L54.43,338.50 L54.61,341.35 L54.87,344.20 L55.24,347.04 L55.72,349.89 L31.65,355.37 L31.10,351.83 L30.68,348.29 L30.39,344.75 L30.22,341.21 L30.18,337.69 L30.27,334.18 L30.47,330.68 L30.80,327.20ZM30.80,327.20 L30.47,330.68 L30.27,334.18 L30.18,337.69 L30.22,341.21 L30.39,344.75 L30.68,348.29 L31.10,351.83 L31.65,355.37 L8.78,360.58 L8.14,356.38 L7.65,352.18 L7.33,347.98 L7.17,343.79 L7.17,339.62 L7.33,335.45 L7.64,331.31 L8.10,327.20ZM127.83,333.48 L127.95,334.27 L128.10,335.07 L128.27,335.86 L128.48,336.66 L128.71,337.45 L128.97,338.24 L129.27,339.02 L129.61,339.80 L109.10,349.81 L108.50,348.42 L107.96,347.02 L107.48,345.61 L107.06,344.18 L106.69,342.76 L106.37,341.33 L106.10,339.90 L105.88,338.47ZM105.88,338.47 L106.10,339.90 L106.37,341.33 L106.69,342.76 L107.06,344.18 L107.48,345.61 L107.96,347.02 L108.50,348.42 L109.10,349.81 L87.52,360.35 L86.55,358.35 L85.67,356.33 L84.87,354.29 L84.15,352.23 L83.50,350.16 L82.94,348.08 L82.44,345.99 L82.03,343.90ZM82.03,343.90 L82.44,345.99 L82.94,348.08 L83.50,350.16 L84.15,352.23 L84.87,354.29 L85.67,356.33 L86.55,358.35 L87.52,360.35 L63.39,372.14 L62.04,369.45 L60.80,366.72 L59.67,363.96 L58.66,361.18 L57.76,358.38 L56.97,355.56 L56.29,352.73 L55.72,349.89ZM55.72,349.89 L56.29,352.73 L56.97,355.56 L57.76,358.38 L58.66,361.18 L59.67,363.96 L60.80,366.72 L62.04,369.45 L63.39,372.14 L40.92,383.11 L39.28,379.74 L37.77,376.34 L36.41,372.90 L35.19,369.43 L34.10,365.94 L33.15,362.43 L32.33,358.90 L31.65,355.37ZM31.65,355.37 L32.33,358.90 L33.15,362.43 L34.10,365.94 L35.19,369.43 L36.41,372.90 L37.77,376.34 L39.28,379.74 L40.92,383.11 L19.80,393.43 L17.85,389.44 L16.07,385.41 L14.44,381.34 L12.98,377.23 L11.69,373.10 L10.55,368.94 L9.59,364.76 L8.78,360.58ZM129.61,339.80 L129.99,340.59 L130.42,341.38 L130.88,342.15 L131.39,342.89 L131.94,343.62 L132.53,344.33 L133.16,345.01 L133.83,345.66 L116.66,360.36 L115.46,359.18 L114.34,357.96 L113.28,356.69 L112.30,355.38 L111.39,354.03 L110.55,352.65 L109.79,351.24 L109.10,349.81ZM109.10,349.81 L109.79,351.24 L110.55,352.65 L111.39,354.03 L112.30,355.38 L113.28,356.69 L114.34,357.96 L115.46,359.18 L116.66,360.36 L98.83,375.61 L97.10,373.88 L95.47,372.09 L93.92,370.25 L92.46,368.35 L91.08,366.41 L89.81,364.43 L88.62,362.40 L87.52,360.35ZM87.52,360.35 L88.62,362.40 L89.81,364.43 L91.08,366.41 L92.46,368.35 L93.92,370.25 L95.47,372.09 L97.10,373.88 L98.83,375.61 L79.08,392.51 L76.71,390.21 L74.45,387.83 L72.30,385.38 L70.27,382.85 L68.37,380.26 L66.58,377.60 L64.93,374.89 L63.39,372.14ZM63.39,372.14 L64.93,374.89 L66.58,377.60 L68.37,380.26 L70.27,382.85 L72.30,385.38 L74.45,387.83 L76.71,390.21 L79.08,392.51 L59.89,408.94 L57.02,405.98 L54.28,402.94 L51.69,399.81 L49.24,396.60 L46.94,393.32 L44.78,389.98 L42.77,386.57 L40.92,383.11ZM40.92,383.11 L42.77,386.57 L44.78,389.98 L46.94,393.32 L49.24,396.60 L51.69,399.81 L54.28,402.94 L57.02,405.98 L59.89,408.94 L42.05,424.20 L38.70,420.65 L35.51,417.00 L32.48,413.26 L29.61,409.43 L26.90,405.53 L24.37,401.56 L22.00,397.52 L19.80,393.43ZM133.83,345.66 L134.53,346.27 L135.26,346.85 L136.02,347.40 L136.81,347.91 L137.63,348.39 L138.48,348.84 L139.34,349.25 L140.22,349.63 L128.04,367.62 L126.47,366.92 L124.93,366.16 L123.42,365.34 L121.97,364.46 L120.56,363.52 L119.20,362.52 L117.90,361.47 L116.66,360.36ZM116.66,360.36 L117.90,361.47 L119.20,362.52 L120.56,363.52 L121.97,364.46 L123.42,365.34 L124.93,366.16 L126.47,366.92 L128.04,367.62 L115.01,386.89 L112.77,385.73 L110.59,384.50 L108.46,383.19 L106.40,381.82 L104.39,380.37 L102.46,378.85 L100.61,377.26 L98.83,375.61ZM98.83,375.61 L100.61,377.26 L102.46,378.85 L104.39,380.37 L106.40,381.82 L108.46,383.19 L110.59,384.50 L112.77,385.73 L115.01,386.89 L101.17,407.33 L98.14,405.82 L95.17,404.21 L92.28,402.50 L89.46,400.69 L86.73,398.78 L84.08,396.78 L81.53,394.69 L79.08,392.51ZM79.08,392.51 L81.53,394.69 L84.08,396.78 L86.73,398.78 L89.46,400.69 L92.28,402.50 L95.17,404.21 L98.14,405.82 L101.17,407.33 L86.79,428.59 L83.06,426.52 L79.43,424.34 L75.89,422.04 L72.46,419.63 L69.14,417.11 L65.93,414.49 L62.85,411.76 L59.89,408.94ZM59.89,408.94 L62.85,411.76 L65.93,414.49 L69.14,417.11 L72.46,419.63 L75.89,422.04 L79.43,424.34 L83.06,426.52 L86.79,428.59 L73.41,448.35 L69.05,445.75 L64.81,443.03 L60.69,440.18 L56.69,437.21 L52.83,434.12 L49.09,430.92 L45.50,427.61 L42.05,424.20ZM140.22,349.63 L141.14,349.98 L142.07,350.29 L143.01,350.57 L143.95,350.82 L144.91,351.04 L145.86,351.23 L146.82,351.39 L147.78,351.54 L141.61,371.26 L139.88,370.98 L138.15,370.66 L136.43,370.29 L134.72,369.87 L133.02,369.40 L131.34,368.87 L129.68,368.28 L128.04,367.62ZM128.04,367.62 L129.68,368.28 L131.34,368.87 L133.02,369.40 L134.72,369.87 L136.43,370.29 L138.15,370.66 L139.88,370.98 L141.61,371.26 L134.64,393.52 L132.09,392.96 L129.56,392.32 L127.05,391.61 L124.57,390.82 L122.12,389.95 L119.71,389.01 L117.34,387.99 L115.01,386.89ZM115.01,386.89 L117.34,387.99 L119.71,389.01 L122.12,389.95 L124.57,390.82 L127.05,391.61 L129.56,392.32 L132.09,392.96 L134.64,393.52 L127.62,415.94 L124.20,415.21 L120.80,414.38 L117.43,413.46 L114.10,412.44 L110.79,411.32 L107.54,410.09 L104.33,408.76 L101.17,407.33ZM101.17,407.33 L104.33,408.76 L107.54,410.09 L110.79,411.32 L114.10,412.44 L117.43,413.46 L120.80,414.38 L124.20,415.21 L127.62,415.94 L119.82,440.85 L115.49,439.77 L111.21,438.56 L106.98,437.22 L102.80,435.75 L98.69,434.15 L94.64,432.42 L90.67,430.57 L86.79,428.59ZM86.79,428.59 L90.67,430.57 L94.64,432.42 L98.69,434.15 L102.80,435.75 L106.98,437.22 L111.21,438.56 L115.49,439.77 L119.82,440.85 L112.50,464.23 L107.33,462.79 L102.23,461.19 L97.20,459.43 L92.26,457.51 L87.40,455.44 L82.63,453.22 L77.97,450.86 L73.41,448.35ZM147.78,351.54 L148.74,351.65 L149.70,351.75 L150.65,351.83 L151.60,351.89 L152.56,351.94 L153.50,351.97 L154.45,351.99 L155.40,352.00 L155.40,372.20 L153.68,372.19 L151.96,372.15 L150.24,372.08 L148.52,371.98 L146.79,371.85 L145.06,371.69 L143.34,371.50 L141.61,371.26ZM141.61,371.26 L143.34,371.50 L145.06,371.69 L146.79,371.85 L148.52,371.98 L150.24,372.08 L151.96,372.15 L153.68,372.19 L155.40,372.20 L155.40,395.60 L152.79,395.57 L150.18,395.47 L147.57,395.31 L144.97,395.09 L142.37,394.80 L139.78,394.44 L137.20,394.02 L134.64,393.52ZM134.64,393.52 L137.20,394.02 L139.78,394.44 L142.37,394.80 L144.97,395.09 L147.57,395.31 L150.18,395.47 L152.79,395.57 L155.40,395.60 L155.40,418.60 L151.91,418.56 L148.42,418.44 L144.93,418.23 L141.45,417.95 L137.98,417.58 L134.51,417.12 L131.06,416.57 L127.62,415.94ZM127.62,415.94 L131.06,416.57 L134.51,417.12 L137.98,417.58 L141.45,417.95 L144.93,418.23 L148.42,418.44 L151.91,418.56 L155.40,418.60 L155.40,444.90 L150.90,444.84 L146.41,444.65 L141.93,444.33 L137.46,443.89 L133.01,443.32 L128.59,442.63 L124.19,441.80 L119.82,440.85ZM119.82,440.85 L124.19,441.80 L128.59,442.63 L133.01,443.32 L137.46,443.89 L141.93,444.33 L146.41,444.65 L150.90,444.84 L155.40,444.90 L155.40,469.70 L149.96,469.61 L144.52,469.36 L139.11,468.92 L133.71,468.32 L128.34,467.55 L123.02,466.61 L117.73,465.50 L112.50,464.23ZM155.40,352.00 L156.33,351.98 L157.26,351.94 L158.18,351.86 L159.10,351.74 L160.01,351.60 L160.91,351.43 L161.81,351.22 L162.69,350.99 L168.67,370.49 L167.06,370.89 L165.42,371.23 L163.77,371.53 L162.11,371.77 L160.44,371.96 L158.77,372.09 L157.08,372.17 L155.40,372.20Z"/>
<path fill="#2ca9e2" stroke="#2ca9e2" stroke-width="0.6" d="M177.20,169.20 L196.35,169.20 L196.97,184.00 L177.52,184.00ZM196.35,169.20 L219.50,169.20 L220.49,184.00 L196.97,184.00ZM219.50,169.20 L240.00,169.20 L241.33,184.00 L220.49,184.00ZM240.00,169.20 L260.30,169.20 L261.89,184.00 L241.33,184.00ZM260.30,169.20 L281.00,169.20 L283.08,184.00 L261.89,184.00ZM177.52,184.00 L196.97,184.00 L197.66,200.30 L177.87,200.30ZM196.97,184.00 L220.49,184.00 L221.59,200.30 L197.66,200.30ZM220.49,184.00 L241.33,184.00 L242.80,200.30 L221.59,200.30ZM241.33,184.00 L261.89,184.00 L263.65,200.30 L242.80,200.30ZM261.89,184.00 L283.08,184.00 L285.37,200.30 L263.65,200.30ZM177.87,200.30 L197.66,200.30 L198.32,216.10 L178.21,216.10ZM197.66,200.30 L221.59,200.30 L222.65,216.10 L198.32,216.10ZM221.59,200.30 L242.80,200.30 L244.22,216.10 L222.65,216.10ZM242.80,200.30 L263.65,200.30 L265.35,216.10 L244.22,216.10ZM263.65,200.30 L285.37,200.30 L287.59,216.10 L265.35,216.10ZM178.21,216.10 L198.32,216.10 L199.04,233.00 L178.57,233.00ZM198.32,216.10 L222.65,216.10 L223.78,233.00 L199.04,233.00ZM222.65,216.10 L244.22,216.10 L245.73,233.00 L223.78,233.00ZM244.22,216.10 L265.35,216.10 L267.16,233.00 L245.73,233.00ZM265.35,216.10 L287.59,216.10 L289.96,233.00 L267.16,233.00ZM178.57,233.00 L199.04,233.00 L199.75,250.00 L178.94,250.00ZM199.04,233.00 L223.78,233.00 L224.92,250.00 L199.75,250.00ZM223.78,233.00 L245.73,233.00 L247.26,250.00 L224.92,250.00ZM245.73,233.00 L267.16,233.00 L268.99,250.00 L247.26,250.00ZM267.16,233.00 L289.96,233.00 L292.35,250.00 L268.99,250.00ZM178.94,250.00 L199.75,250.00 L200.47,267.00 L179.30,267.00ZM199.75,250.00 L224.92,250.00 L226.06,267.00 L200.47,267.00ZM224.92,250.00 L247.26,250.00 L248.79,267.00 L226.06,267.00ZM247.26,250.00 L268.99,250.00 L270.82,267.00 L248.79,267.00ZM268.99,250.00 L292.35,250.00 L294.74,267.00 L270.82,267.00ZM179.30,267.00 L200.47,267.00 L201.24,285.30 L179.70,285.30ZM200.47,267.00 L226.06,267.00 L227.29,285.30 L201.24,285.30ZM226.06,267.00 L248.79,267.00 L250.43,285.30 L227.29,285.30ZM248.79,267.00 L270.82,267.00 L272.79,285.30 L250.43,285.30ZM270.82,267.00 L294.74,267.00 L297.31,285.30 L272.79,285.30ZM179.70,285.30 L201.24,285.30 L202.11,306.00 L180.14,306.00ZM201.24,285.30 L227.29,285.30 L228.68,306.00 L202.11,306.00ZM227.29,285.30 L250.43,285.30 L252.29,306.00 L228.68,306.00ZM250.43,285.30 L272.79,285.30 L275.02,306.00 L252.29,306.00ZM272.79,285.30 L297.31,285.30 L300.22,306.00 L275.02,306.00ZM180.14,306.00 L202.11,306.00 L203.00,327.20 L180.60,327.20ZM202.11,306.00 L228.68,306.00 L230.10,327.20 L203.00,327.20ZM228.68,306.00 L252.29,306.00 L254.20,327.20 L230.10,327.20ZM252.29,306.00 L275.02,306.00 L277.30,327.20 L254.20,327.20ZM275.02,306.00 L300.22,306.00 L303.20,327.20 L277.30,327.20ZM162.69,350.99 L163.56,350.72 L164.42,350.43 L165.27,350.11 L166.09,349.76 L166.90,349.38 L167.69,348.98 L168.46,348.56 L169.21,348.11 L180.75,365.58 L179.35,366.35 L177.90,367.08 L176.43,367.77 L174.93,368.41 L173.40,369.00 L171.85,369.55 L170.27,370.04 L168.67,370.49ZM168.67,370.49 L170.27,370.04 L171.85,369.55 L173.40,369.00 L174.93,368.41 L176.43,367.77 L177.90,367.08 L179.35,366.35 L180.75,365.58 L194.35,386.15 L192.14,387.27 L189.89,388.32 L187.60,389.31 L185.27,390.22 L182.91,391.07 L180.51,391.85 L178.09,392.56 L175.63,393.19ZM175.63,393.19 L178.09,392.56 L180.51,391.85 L182.91,391.07 L185.27,390.22 L187.60,389.31 L189.89,388.32 L192.14,387.27 L194.35,386.15 L207.43,405.95 L204.49,407.45 L201.48,408.86 L198.42,410.18 L195.31,411.41 L192.16,412.54 L188.96,413.58 L185.71,414.53 L182.44,415.38ZM182.44,415.38 L185.71,414.53 L188.96,413.58 L192.16,412.54 L195.31,411.41 L198.42,410.18 L201.48,408.86 L204.49,407.45 L207.43,405.95 L221.81,427.72 L218.11,429.73 L214.33,431.63 L210.47,433.42 L206.53,435.08 L202.53,436.62 L198.45,438.04 L194.32,439.33 L190.14,440.48ZM190.14,440.48 L194.32,439.33 L198.45,438.04 L202.53,436.62 L206.53,435.08 L210.47,433.42 L214.33,431.63 L218.11,429.73 L221.81,427.72 L236.05,449.27 L231.54,451.68 L226.92,453.94 L222.22,456.07 L217.42,458.05 L212.55,459.89 L207.59,461.57 L202.57,463.10 L197.49,464.47ZM169.21,348.11 L169.94,347.64 L170.65,347.15 L171.34,346.64 L172.00,346.10 L172.64,345.55 L173.25,344.99 L173.84,344.40 L174.40,343.81 L190.68,358.03 L189.58,359.09 L188.44,360.12 L187.26,361.12 L186.03,362.09 L184.77,363.02 L183.47,363.91 L182.13,364.76 L180.75,365.58ZM180.75,365.58 L182.13,364.76 L183.47,363.91 L184.77,363.02 L186.03,362.09 L187.26,361.12 L188.44,360.12 L189.58,359.09 L190.68,358.03 L210.13,375.03 L208.36,376.61 L206.53,378.15 L204.64,379.63 L202.69,381.05 L200.68,382.42 L198.62,383.72 L196.51,384.97 L194.35,386.15ZM194.35,386.15 L196.51,384.97 L198.62,383.72 L200.68,382.42 L202.69,381.05 L204.64,379.63 L206.53,378.15 L208.36,376.61 L210.13,375.03 L228.46,391.04 L226.11,393.17 L223.67,395.23 L221.15,397.21 L218.55,399.12 L215.88,400.95 L213.13,402.70 L210.31,404.37 L207.43,405.95ZM207.43,405.95 L210.31,404.37 L213.13,402.70 L215.88,400.95 L218.55,399.12 L221.15,397.21 L223.67,395.23 L226.11,393.17 L228.46,391.04 L247.80,407.95 L244.94,410.74 L241.95,413.45 L238.86,416.07 L235.65,418.60 L232.34,421.03 L228.93,423.37 L225.42,425.60 L221.81,427.72ZM221.81,427.72 L225.42,425.60 L228.93,423.37 L232.34,421.03 L235.65,418.60 L238.86,416.07 L241.95,413.45 L244.94,410.74 L247.80,407.95 L267.87,425.49 L264.36,428.86 L260.70,432.13 L256.90,435.28 L252.98,438.33 L248.92,441.25 L244.75,444.05 L240.45,446.73 L236.05,449.27ZM174.40,343.81 L174.94,343.19 L175.46,342.57 L175.94,341.93 L176.41,341.29 L176.84,340.63 L177.26,339.96 L177.64,339.29 L178.01,338.61 L197.83,348.61 L197.10,349.86 L196.32,351.09 L195.50,352.31 L194.62,353.50 L193.70,354.67 L192.74,355.82 L191.73,356.94 L190.68,358.03ZM190.68,358.03 L191.73,356.94 L192.74,355.82 L193.70,354.67 L194.62,353.50 L195.50,352.31 L196.32,351.09 L197.10,349.86 L197.83,348.61 L221.82,360.71 L220.61,362.64 L219.33,364.53 L217.98,366.39 L216.55,368.20 L215.05,369.98 L213.48,371.71 L211.84,373.39 L210.13,375.03ZM210.13,375.03 L211.84,373.39 L213.48,371.71 L215.05,369.98 L216.55,368.20 L217.98,366.39 L219.33,364.53 L220.61,362.64 L221.82,360.71 L243.90,371.85 L242.32,374.43 L240.63,376.97 L238.85,379.46 L236.96,381.89 L234.98,384.27 L232.90,386.59 L230.72,388.85 L228.46,391.04ZM228.46,391.04 L230.72,388.85 L232.90,386.59 L234.98,384.27 L236.96,381.89 L238.85,379.46 L240.63,376.97 L242.32,374.43 L243.90,371.85 L266.23,383.12 L264.38,386.42 L262.40,389.68 L260.29,392.88 L258.04,396.03 L255.67,399.11 L253.17,402.13 L250.55,405.08 L247.80,407.95ZM247.80,407.95 L250.55,405.08 L253.17,402.13 L255.67,399.11 L258.04,396.03 L260.29,392.88 L262.40,389.68 L264.38,386.42 L266.23,383.12 L290.46,395.34 L288.20,399.37 L285.78,403.33 L283.19,407.22 L280.44,411.05 L277.53,414.79 L274.46,418.45 L271.24,422.01 L267.87,425.49ZM178.01,338.61 L178.34,337.92 L178.66,337.22 L178.95,336.52 L179.21,335.82 L179.45,335.11 L179.67,334.40 L179.86,333.68 L180.03,332.97 L201.95,338.10 L201.60,339.45 L201.21,340.79 L200.77,342.12 L200.28,343.44 L199.74,344.76 L199.15,346.05 L198.51,347.34 L197.83,348.61ZM197.83,348.61 L198.51,347.34 L199.15,346.05 L199.74,344.76 L200.28,343.44 L200.77,342.12 L201.21,340.79 L201.60,339.45 L201.95,338.10 L228.60,344.34 L228.03,346.45 L227.39,348.56 L226.66,350.64 L225.86,352.70 L224.97,354.74 L224.00,356.76 L222.95,358.75 L221.82,360.71ZM221.82,360.71 L222.95,358.75 L224.00,356.76 L224.97,354.74 L225.86,352.70 L226.66,350.64 L227.39,348.56 L228.03,346.45 L228.60,344.34 L252.63,349.97 L251.93,352.79 L251.12,355.59 L250.19,358.38 L249.15,361.14 L248.00,363.87 L246.74,366.56 L245.37,369.23 L243.90,371.85ZM243.90,371.85 L245.37,369.23 L246.74,366.56 L248.00,363.87 L249.15,361.14 L250.19,358.38 L251.12,355.59 L251.93,352.79 L252.63,349.97 L276.11,355.47 L275.36,359.00 L274.47,362.52 L273.44,366.02 L272.27,369.50 L270.96,372.96 L269.52,376.38 L267.95,379.77 L266.23,383.12ZM266.23,383.12 L267.95,379.77 L269.52,376.38 L270.96,372.96 L272.27,369.50 L273.44,366.02 L274.47,362.52 L275.36,359.00 L276.11,355.47 L302.34,361.61 L301.46,365.92 L300.41,370.22 L299.18,374.49 L297.78,378.74 L296.21,382.95 L294.47,387.13 L292.55,391.26 L290.46,395.34ZM180.03,332.97 L180.18,332.25 L180.31,331.53 L180.41,330.81 L180.49,330.09 L180.55,329.36 L180.59,328.64 L180.61,327.92 L180.60,327.20 L203.00,327.20 L203.03,328.56 L203.02,329.93 L202.96,331.29 L202.85,332.66 L202.70,334.02 L202.50,335.39 L202.25,336.75 L201.95,338.10ZM201.95,338.10 L202.25,336.75 L202.50,335.39 L202.70,334.02 L202.85,332.66 L202.96,331.29 L203.02,329.93 L203.03,328.56 L203.00,327.20 L230.10,327.20 L230.20,329.34 L230.22,331.49 L230.16,333.63 L230.01,335.78 L229.78,337.93 L229.47,340.08 L229.08,342.21 L228.60,344.34ZM228.60,344.34 L229.08,342.21 L229.47,340.08 L229.78,337.93 L230.01,335.78 L230.16,333.63 L230.22,331.49 L230.20,329.34 L230.10,327.20 L254.20,327.20 L254.39,330.03 L254.48,332.87 L254.45,335.73 L254.31,338.58 L254.06,341.43 L253.70,344.29 L253.22,347.13 L252.63,349.97ZM252.63,349.97 L253.22,347.13 L253.70,344.29 L254.06,341.43 L254.31,338.58 L254.45,335.73 L254.48,332.87 L254.39,330.03 L254.20,327.20 L277.30,327.20 L277.61,330.70 L277.80,334.21 L277.85,337.74 L277.77,341.28 L277.56,344.83 L277.22,348.37 L276.73,351.92 L276.11,355.47ZM276.11,355.47 L276.73,351.92 L277.22,348.37 L277.56,344.83 L277.77,341.28 L277.85,337.74 L277.80,334.21 L277.61,330.70 L277.30,327.20 L303.20,327.20 L303.68,331.44 L303.99,335.71 L304.14,340.00 L304.12,344.31 L303.93,348.63 L303.57,352.96 L303.04,357.28 L302.34,361.61Z"/>
<path fill="#999999" stroke="#999999" stroke-width="0.6" d="M155.40,372.20 L157.08,372.17 L158.77,372.09 L160.44,371.96 L162.11,371.77 L163.77,371.53 L165.42,371.23 L167.06,370.89 L168.67,370.49 L175.63,393.19 L173.16,393.75 L170.66,394.24 L168.14,394.66 L165.61,394.99 L163.07,395.26 L160.52,395.45 L157.96,395.56 L155.40,395.60ZM155.40,395.60 L157.96,395.56 L160.52,395.45 L163.07,395.26 L165.61,394.99 L168.14,394.66 L170.66,394.24 L173.16,393.75 L175.63,393.19 L182.44,415.38 L179.13,416.13 L175.79,416.78 L172.43,417.34 L169.05,417.79 L165.65,418.14 L162.24,418.40 L158.82,418.55 L155.40,418.60ZM155.40,418.60 L158.82,418.55 L162.24,418.40 L165.65,418.14 L169.05,417.79 L172.43,417.34 L175.79,416.78 L179.13,416.13 L182.44,415.38 L190.14,440.48 L185.90,441.51 L181.62,442.41 L177.31,443.17 L172.96,443.79 L168.59,444.27 L164.21,444.62 L159.81,444.83 L155.40,444.90ZM155.40,444.90 L159.81,444.83 L164.21,444.62 L168.59,444.27 L172.96,443.79 L177.31,443.17 L181.62,442.41 L185.90,441.51 L190.14,440.48 L197.49,464.47 L192.35,465.69 L187.16,466.75 L181.93,467.65 L176.67,468.39 L171.38,468.96 L166.06,469.37 L160.74,469.62 L155.40,469.70Z"/>
<path fill="none" stroke="#fff" stroke-width="2.8" d="M24.40,184.00 L131.22,184.00 M177.52,184.00 L286.08,184.00 M22.21,200.30 L130.79,200.30 M177.87,200.30 L288.37,200.30 M20.08,216.10 L130.38,216.10 M178.21,216.10 L290.59,216.10 M17.80,233.00 L129.94,233.00 M178.57,233.00 L292.96,233.00 M15.51,250.00 L129.50,250.00 M178.94,250.00 L295.35,250.00 M13.22,267.00 L129.06,267.00 M179.30,267.00 L297.74,267.00 M10.75,285.30 L128.59,285.30 M179.70,285.30 L300.31,285.30 M7.96,306.00 L128.05,306.00 M180.14,306.00 L303.22,306.00 M5.10,327.20 L127.50,327.20 M180.60,327.20 L306.20,327.20 M48.80,168.20 L30.80,327.20 L30.80,327.20 L30.33,332.93 L30.18,338.70 L30.37,344.50 L30.91,350.32 L31.79,356.14 L33.03,361.95 L34.63,367.71 L36.61,373.42 L38.96,379.05 L41.68,384.58 L44.78,389.98 L48.25,395.23 L52.09,400.31 L56.28,405.19 L60.82,409.85 L65.68,414.27 L70.85,418.44 L76.31,422.33 L82.03,425.92 L88.00,429.22 L94.17,432.21 L100.53,434.89 L107.06,437.25 L113.72,439.29 L120.50,441.01 L127.38,442.41 L134.32,443.50 L141.32,444.28 L148.35,444.75 L155.40,444.90 L162.45,444.72 L169.47,444.19 L176.44,443.30 L183.34,442.06 L190.14,440.48 L196.81,438.57 L203.33,436.32 L209.69,433.76 L215.86,430.89 L221.81,427.72 L227.54,424.27 L233.01,420.55 L238.23,416.58 L243.16,412.37 L247.80,407.95 L252.14,403.32 L256.16,398.50 L259.85,393.52 L263.21,388.38 L266.23,383.12 L268.91,377.74 L271.24,372.27 L273.21,366.72 L274.84,361.11 L276.11,355.47 L277.04,349.79 L277.62,344.12 L277.85,338.45 L277.74,332.80 L277.30,327.20 L277.30,327.20 L260.30,168.20 M68.90,168.20 L54.70,327.20 L54.70,327.20 L54.41,331.83 L54.37,336.48 L54.59,341.15 L55.07,345.84 L55.83,350.51 L56.87,355.18 L58.20,359.80 L59.84,364.38 L61.78,368.89 L64.02,373.30 L66.58,377.60 L69.46,381.77 L72.63,385.77 L76.10,389.59 L79.86,393.22 L83.87,396.62 L88.14,399.79 L92.62,402.71 L97.30,405.38 L102.16,407.79 L107.16,409.94 L112.28,411.84 L117.50,413.48 L122.80,414.88 L128.16,416.04 L133.56,416.98 L139.00,417.69 L144.46,418.20 L149.92,418.50 L155.40,418.60 L160.87,418.47 L166.33,418.08 L171.75,417.44 L177.13,416.53 L182.44,415.38 L187.66,413.97 L192.79,412.32 L197.81,410.43 L202.69,408.31 L207.43,405.95 L212.01,403.38 L216.42,400.59 L220.64,397.60 L224.65,394.41 L228.46,391.04 L232.04,387.50 L235.38,383.80 L238.48,379.95 L241.32,375.96 L243.90,371.85 L246.21,367.63 L248.24,363.32 L249.99,358.93 L251.46,354.47 L252.63,349.97 L253.52,345.43 L254.12,340.86 L254.43,336.30 L254.46,331.74 L254.20,327.20 L254.20,327.20 L240.00,168.20 M91.90,168.20 L81.10,327.20 L81.10,327.20 L80.96,330.61 L80.98,334.04 L81.18,337.47 L81.55,340.92 L82.11,344.36 L82.86,347.80 L83.82,351.21 L84.98,354.60 L86.37,357.94 L87.97,361.22 L89.81,364.43 L91.87,367.54 L94.16,370.54 L96.66,373.42 L99.39,376.15 L102.31,378.72 L105.43,381.13 L108.71,383.35 L112.15,385.39 L115.73,387.24 L119.43,388.89 L123.22,390.35 L127.10,391.62 L131.04,392.70 L135.04,393.61 L139.07,394.33 L143.13,394.89 L147.21,395.29 L151.30,395.52 L155.40,395.60 L159.50,395.50 L163.58,395.21 L167.64,394.73 L171.66,394.05 L175.63,393.19 L179.55,392.14 L183.38,390.91 L187.14,389.50 L190.80,387.91 L194.35,386.15 L197.78,384.23 L201.08,382.15 L204.25,379.92 L207.27,377.54 L210.13,375.03 L212.83,372.39 L215.35,369.63 L217.70,366.75 L219.85,363.78 L221.82,360.71 L223.59,357.56 L225.15,354.34 L226.51,351.05 L227.66,347.72 L228.60,344.34 L229.32,340.93 L229.84,337.50 L230.14,334.06 L230.22,330.63 L230.10,327.20 L230.10,327.20 L219.50,168.20 M112.20,168.20 L105.40,327.20 L105.40,327.20 L105.34,329.49 L105.35,331.80 L105.45,334.11 L105.64,336.44 L105.93,338.78 L106.33,341.13 L106.87,343.48 L107.55,345.82 L108.38,348.14 L109.38,350.42 L110.55,352.65 L111.91,354.81 L113.45,356.89 L115.16,358.86 L117.05,360.72 L119.09,362.44 L121.28,364.02 L123.60,365.45 L126.03,366.72 L128.55,367.84 L131.14,368.80 L133.79,369.62 L136.47,370.30 L139.17,370.86 L141.88,371.30 L144.59,371.64 L147.30,371.89 L150.00,372.07 L152.70,372.17 L155.40,372.20 L158.09,372.13 L160.78,371.92 L163.44,371.58 L166.08,371.10 L168.67,370.49 L171.22,369.75 L173.71,368.88 L176.13,367.90 L178.48,366.79 L180.75,365.58 L182.94,364.25 L185.02,362.83 L187.01,361.32 L188.90,359.71 L190.68,358.03 L192.34,356.27 L193.89,354.44 L195.33,352.55 L196.64,350.60 L197.83,348.61 L198.90,346.57 L199.85,344.49 L200.67,342.39 L201.37,340.25 L201.95,338.10 L202.40,335.93 L202.74,333.75 L202.94,331.57 L203.03,329.38 L203.00,327.20 L203.00,327.20 L196.35,168.20 M128.97,333.22 L5.19,361.39 M130.65,339.29 L16.37,395.10 M134.69,344.92 L39.09,426.73 M140.84,348.72 L71.22,451.59 M148.10,350.51 L111.34,467.95 M155.40,350.94 L155.40,473.59 M162.38,349.96 L198.63,468.20 M168.61,347.20 L238.20,452.53 M173.56,343.07 L270.80,428.05 M176.98,338.09 L293.87,397.06 M178.90,332.70 L305.93,362.45"/>
</g>
<rect x="310" y="68" width="120" height="58" fill="#4d4d4d"/>
<path d="M310,208 A60,59 0 0 0 370,267 L370,208Z" fill="#fbd3d6"/>
<path d="M430,208 A60,59 0 0 1 370,267 L370,208Z" fill="#d9eefb"/>
<rect x="310" y="125.5" width="120" height="82.3" fill="#cc0000"/>
<g fill="#abaaac"><path d="M366.76,211.86 L370.90,212.59 L364.66,247.94 L369.10,248.12 L360.70,258.31 L356.29,245.86 L360.52,247.21Z"/><circle cx="369.7" cy="207.3" r="12.8"/></g><circle cx="369.7" cy="207.3" r="6" fill="#fff"/>
<text transform="translate(112.55,50.30) rotate(0.05) scale(1.1194,1.0277)" font-size="31" font-weight="bold" fill="#cc0000" stroke="#cc0000" stroke-width="2.2" stroke-linejoin="round" letter-spacing="1.6">2013</text>
<text transform="translate(553.55,50.29) rotate(0.05) scale(1.1476,1.0267)" font-size="31" font-weight="bold" fill="#cc0000" stroke="#cc0000" stroke-width="2.2" stroke-linejoin="round" letter-spacing="1.6">2016</text>
<text transform="translate(218.02,46.45) rotate(0.05) scale(1.1302,1.0488)" font-size="18" font-weight="bold" fill="#4d4d4d" stroke="#4d4d4d" stroke-width="1.8" stroke-linejoin="round" letter-spacing="0.8" word-spacing="-1.7">COULD LABOR WIN IN JULY?</text>
<text transform="translate(40.04,80.00) rotate(0.05) scale(1.1851,1.0500)" font-size="15.6" font-weight="normal" fill="#808080" stroke="#808080" stroke-width="0.25" stroke-linejoin="round">Coalition retained majority in</text>
<text transform="translate(57.88,98.75) rotate(0.05) scale(1.1304,1.0500)" font-size="15.6" font-weight="normal" fill="#808080" stroke="#808080" stroke-width="0.25" stroke-linejoin="round">house of representatives.</text>
<text transform="translate(491.36,80.50) rotate(0.05) scale(1.1469,1.0500)" font-size="15.6" font-weight="normal" fill="#808080" stroke="#808080" stroke-width="0.25" stroke-linejoin="round">Labor will need a swing of</text>
<text transform="translate(519.16,99.00) rotate(0.05) scale(1.1137,1.0500)" font-size="15.6" font-weight="normal" fill="#808080" stroke="#808080" stroke-width="0.25" stroke-linejoin="round">4.1% to take power.</text>
<text transform="translate(340.38,92.32) rotate(0.05) scale(1.2250,1.0907)" font-size="14" font-weight="bold" fill="#ffffff" stroke="#ffffff" stroke-width="0.8" stroke-linejoin="round">LABOR</text>
<text transform="translate(340.36,108.47) rotate(0.05) scale(1.2426,1.0659)" font-size="14" font-weight="bold" fill="#ffffff" stroke="#ffffff" stroke-width="0.8" stroke-linejoin="round">NEEDS</text>
<text transform="translate(327.65,159.38) rotate(0.05) scale(1.2031,1.1192)" font-size="30" font-weight="bold" fill="#ffffff" stroke="#ffffff" stroke-width="2.2" stroke-linejoin="round">4.1%</text>
<text transform="translate(331.36,181.12) rotate(0.05) scale(1.2206,1.1020)" font-size="18" font-weight="bold" fill="#ffffff" stroke="#ffffff" stroke-width="1" stroke-linejoin="round">SWING</text>
<text transform="translate(33.33,122.93) rotate(0.05) scale(1.0401,1.0292)" font-size="10" font-weight="bold" fill="#ed1c24" stroke="#ed1c24" stroke-width="0.35" stroke-linejoin="round">LABOR</text><text transform="translate(30.28,156.55) rotate(0.05) scale(1.2531,1.1365)" font-size="35" font-weight="bold" fill="#ed1c24" stroke="#ed1c24" stroke-width="1.3" stroke-linejoin="round">55</text>
<text transform="translate(224.80,122.93) rotate(0.05) scale(1.0529,1.0281)" font-size="10" font-weight="bold" fill="#2ca9e2" stroke="#2ca9e2" stroke-width="0.35" stroke-linejoin="round">COALITION</text><text transform="translate(225.52,156.54) rotate(0.05) scale(1.3787,1.1453)" font-size="35" font-weight="bold" fill="#2ca9e2" stroke="#2ca9e2" stroke-width="1.3" stroke-linejoin="round">90</text>
<text transform="translate(5.30,446.93) rotate(0.05) scale(1.0489,1.0310)" font-size="10" font-weight="bold" fill="#39b54a" stroke="#39b54a" stroke-width="0.35" stroke-linejoin="round">GREENS</text><clipPath id="c1_16"><path d="M-50,-45.50 H200 V-4.522 H13.921 V20 H7.219 V-4.522 H-50 Z"/></clipPath><text transform="translate(15.96,482.45) rotate(0.05) scale(0.8599,1.1347)" font-size="35" font-weight="bold" fill="#39b54a" stroke="#39b54a" stroke-width="1.3" stroke-linejoin="round" clip-path="url(#c1_16)">1</text>
<text transform="translate(263.87,446.93) rotate(0.05) scale(1.0375,0.9917)" font-size="10" font-weight="bold" fill="#999999" stroke="#999999" stroke-width="0.35" stroke-linejoin="round">OTHER</text><text transform="translate(272.62,482.29) rotate(0.05) scale(1.1538,1.1296)" font-size="35" font-weight="bold" fill="#999999" stroke="#999999" stroke-width="1.3" stroke-linejoin="round">3</text>
<text transform="translate(462.55,122.92) rotate(0.05) scale(1.0240,1.0287)" font-size="10" font-weight="bold" fill="#ed1c24" stroke="#ed1c24" stroke-width="0.35" stroke-linejoin="round">LABOR</text><text transform="translate(459.57,155.25) rotate(0.05) scale(1.2861,1.1275)" font-size="35" font-weight="bold" fill="#ed1c24" stroke="#ed1c24" stroke-width="1.3" stroke-linejoin="round">76</text>
<text transform="translate(653.87,122.93) rotate(0.05) scale(1.0442,1.0298)" font-size="10" font-weight="bold" fill="#2ca9e2" stroke="#2ca9e2" stroke-width="0.35" stroke-linejoin="round">COALITION</text><text transform="translate(658.24,155.71) rotate(0.05) scale(1.3387,1.1121)" font-size="35" font-weight="bold" fill="#2ca9e2" stroke="#2ca9e2" stroke-width="1.3" stroke-linejoin="round">70</text>
<text transform="translate(692.87,446.93) rotate(0.05) scale(1.0475,0.9917)" font-size="10" font-weight="bold" fill="#999999" stroke="#999999" stroke-width="0.35" stroke-linejoin="round">OTHER</text><text transform="translate(701.29,482.15) rotate(0.05) scale(1.2228,1.1347)" font-size="35" font-weight="bold" fill="#999999" stroke="#999999" stroke-width="1.3" stroke-linejoin="round">4</text>
<rect x="7" y="526.75" width="22" height="21.8" fill="#2ca9e2"/><text transform="translate(40.82,550.00) rotate(0.05) scale(1.0896,1.0000)" font-size="19.2" font-weight="normal" fill="#77787b" stroke="#77787b" stroke-width="0.5" stroke-linejoin="round">Coalition</text><text transform="translate(307.03,550.05) rotate(0.05) scale(1.1924,1.1040)" font-size="38" font-weight="bold" fill="#2ca9e2">90</text><line x1="4" y1="556.5" x2="354.2" y2="556.5" stroke="#737477" stroke-width="2.8" stroke-linecap="round" stroke-dasharray="0.01 6.99"/><circle cx="357.7" cy="556.5" r="1.4" fill="#737477"/><rect x="7" y="568" width="22" height="21.8" fill="#ed1c24"/><text transform="translate(40.42,591.00) rotate(0.05) scale(1.0567,1.0000)" font-size="19.2" font-weight="normal" fill="#77787b" stroke="#77787b" stroke-width="0.5" stroke-linejoin="round">Labor</text><text transform="translate(307.08,590.99) rotate(0.05) scale(1.1513,1.1042)" font-size="38" font-weight="bold" fill="#ed1c24">55</text><line x1="4" y1="596.2" x2="354.2" y2="596.2" stroke="#737477" stroke-width="2.8" stroke-linecap="round" stroke-dasharray="0.01 6.99"/><circle cx="357.7" cy="596.2" r="1.4" fill="#737477"/><rect x="7" y="609.6" width="22" height="21.8" fill="#999999"/><text transform="translate(40.06,632.50) rotate(0.05) scale(1.0975,1.0000)" font-size="19.2" font-weight="normal" fill="#77787b" stroke="#77787b" stroke-width="0.5" stroke-linejoin="round">Independent</text><text transform="translate(332.40,632.63) rotate(0.05) scale(1.1062,1.1091)" font-size="38" font-weight="bold" fill="#999999">4</text><line x1="4" y1="637.5" x2="354.2" y2="637.5" stroke="#737477" stroke-width="2.8" stroke-linecap="round" stroke-dasharray="0.01 6.99"/><circle cx="357.7" cy="637.5" r="1.4" fill="#737477"/><rect x="7" y="651" width="22" height="21.8" fill="#39b54a"/><text transform="translate(41.06,673.50) rotate(0.05) scale(0.9869,1.0000)" font-size="19.2" font-weight="normal" fill="#77787b" stroke="#77787b" stroke-width="0.5" stroke-linejoin="round">Greens</text><clipPath id="c1_32"><path d="M-50,-49.40 H200 V-4.178 H14.383 V20 H8.569 V-4.178 H-50 Z"/></clipPath><text transform="translate(334.07,673.97) rotate(0.05) scale(0.8222,1.1179)" font-size="38" font-weight="bold" fill="#39b54a" clip-path="url(#c1_32)">1</text><line x1="4" y1="679.5" x2="354.2" y2="679.5" stroke="#737477" stroke-width="2.8" stroke-linecap="round" stroke-dasharray="0.01 6.99"/><circle cx="357.7" cy="679.5" r="1.4" fill="#737477"/>
<rect x="379.25" y="526.75" width="22" height="21.8" fill="#2ca9e2"/><text transform="translate(413.29,550.00) rotate(0.05) scale(1.0868,1.0000)" font-size="19.2" font-weight="normal" fill="#77787b" stroke="#77787b" stroke-width="0.5" stroke-linejoin="round">Coalition</text><text transform="translate(678.12,550.05) rotate(0.05) scale(1.2151,1.1021)" font-size="38" font-weight="bold" fill="#2ca9e2">70</text><line x1="377.6" y1="556.5" x2="728" y2="556.5" stroke="#737477" stroke-width="2.8" stroke-linecap="round" stroke-dasharray="0.01 6.99"/><circle cx="738.05" cy="556.5" r="1.4" fill="#737477"/><rect x="379.25" y="568" width="22" height="21.8" fill="#ed1c24"/><text transform="translate(412.77,591.00) rotate(0.05) scale(1.0585,1.0000)" font-size="19.2" font-weight="normal" fill="#77787b" stroke="#77787b" stroke-width="0.5" stroke-linejoin="round">Labor</text><text transform="translate(678.36,591.08) rotate(0.05) scale(1.2167,1.0999)" font-size="38" font-weight="bold" fill="#ed1c24">76</text><line x1="377.6" y1="596.2" x2="728" y2="596.2" stroke="#737477" stroke-width="2.8" stroke-linecap="round" stroke-dasharray="0.01 6.99"/><circle cx="738.05" cy="596.2" r="1.4" fill="#737477"/><rect x="379.25" y="609.6" width="22" height="21.8" fill="#999999"/><text transform="translate(412.39,632.50) rotate(0.05) scale(1.0981,1.0000)" font-size="19.2" font-weight="normal" fill="#77787b" stroke="#77787b" stroke-width="0.5" stroke-linejoin="round">Independent</text><text transform="translate(704.38,632.93) rotate(0.05) scale(1.1310,1.1213)" font-size="38" font-weight="bold" fill="#999999">4</text><line x1="377.6" y1="637.5" x2="728" y2="637.5" stroke="#737477" stroke-width="2.8" stroke-linecap="round" stroke-dasharray="0.01 6.99"/><circle cx="738.05" cy="637.5" r="1.4" fill="#737477"/>
</svg>
</body></html>
